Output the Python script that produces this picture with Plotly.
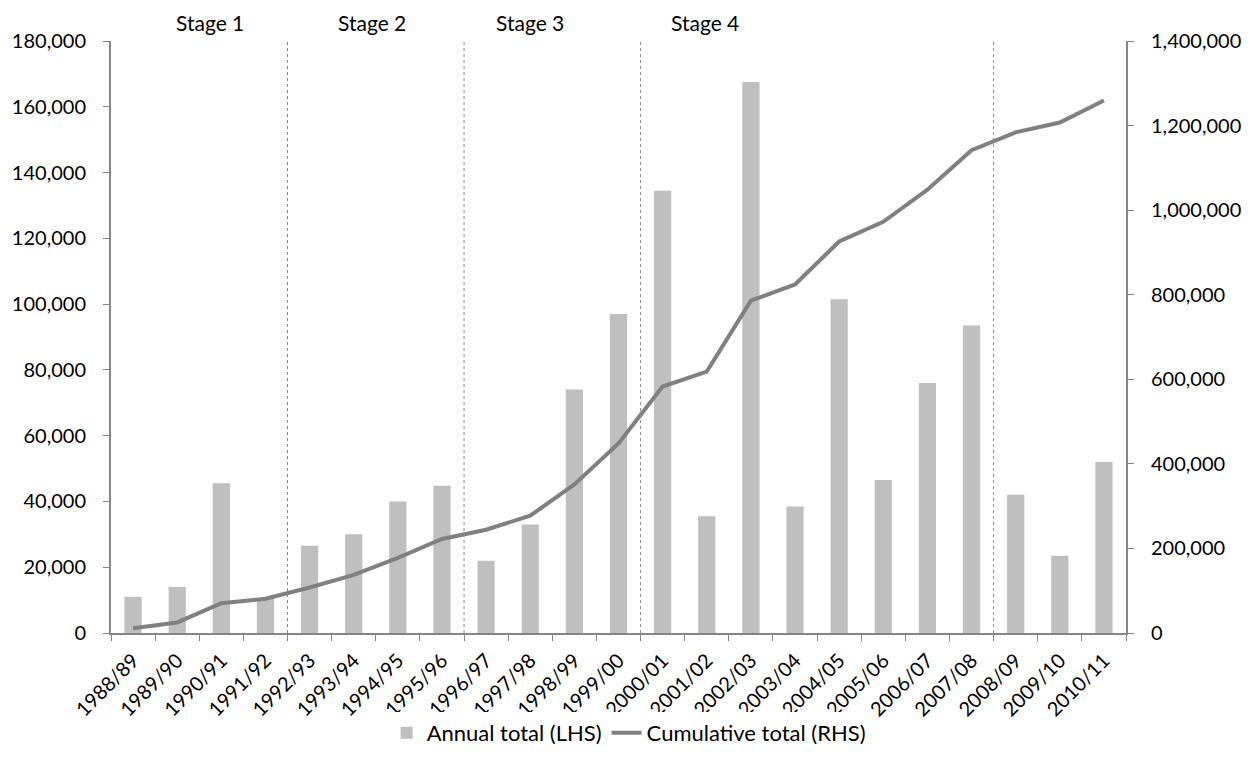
import plotly.graph_objects as go

years = ["1988/89", "1989/90", "1990/91", "1991/92", "1992/93", "1993/94", "1994/95",
         "1995/96", "1996/97", "1997/98", "1998/99", "1999/00", "2000/01", "2001/02",
         "2002/03", "2003/04", "2004/05", "2005/06", "2006/07", "2007/08", "2008/09",
         "2009/10", "2010/11"]
annual = [11000, 14000, 45500, 10500, 26500, 30000, 40000, 44800, 22000, 33000, 74000,
          97000, 134500, 35500, 167500, 38500, 101500, 46500, 76000, 93500, 42000,
          23500, 52000]
cumulative = [11000, 25000, 70500, 81000, 107500, 137500, 177500, 222300, 244300, 277300,
              351300, 448300, 582800, 618300, 785800, 824300, 925800, 972300, 1048300,
              1141800, 1183800, 1207300, 1259300]
stage_labels = ["Stage 1", "Stage 2", "Stage 3", "Stage 4"]
stage_label_pos = [1.74, 5.41, 8.99, 12.96]
stage_breaks = [3.5, 7.5, 11.5, 19.5]

FONT = "Lato"
AXIS_COLOR = "#868686"
TICK_FONT = dict(family=FONT, size=20, color="black")

fig = go.Figure()
fig.add_trace(go.Bar(x=years, y=annual, name="Annual total (LHS)",
                     marker=dict(color="#BFBFBF", line=dict(width=0)), width=0.39))
fig.add_trace(go.Scatter(x=years, y=cumulative, name="Cumulative total (RHS)", yaxis="y2",
                         mode="lines", line=dict(color="#808080", width=4)))

for b in stage_breaks:
    fig.add_shape(type="line", xref="x", yref="paper", x0=b, x1=b, y0=0, y1=1,
                  line=dict(color="#888888", width=1, dash="3px,3px"))

for lab, pos in zip(stage_labels, stage_label_pos):
    fig.add_annotation(text=lab, x=pos, xref="x", y=1.031, yref="paper",
                       showarrow=False, xanchor="center", yanchor="middle",
                       font=dict(family=FONT, size=21, color="black"))

fig.update_layout(
    width=1259, height=773,
    margin=dict(l=103, r=141, t=33, b=148),
    paper_bgcolor="white", plot_bgcolor="white",
    font=dict(family=FONT, size=20, color="black"),
    showlegend=True,
    legend=dict(orientation="h", x=0.51, xanchor="center", y=-0.169, yanchor="middle",
                font=dict(family=FONT, size=22, color="black"), traceorder="normal"),
    xaxis=dict(type="category", tickangle=-45, showline=True, linecolor=AXIS_COLOR,
               linewidth=2, ticks="outside", tickson="boundaries", ticklen=6,
               tickcolor=AXIS_COLOR, showgrid=False, zeroline=False, automargin=False,
               tickfont=TICK_FONT, ticklabelstandoff=6,
               range=[-0.5, len(years) - 0.5]),
    yaxis=dict(range=[0, 180000], dtick=20000, tickformat=",d", showline=True,
               linecolor=AXIS_COLOR, linewidth=2, ticks="outside", ticklen=6,
               tickcolor=AXIS_COLOR, showgrid=False, zeroline=False, automargin=False,
               tickfont=TICK_FONT, ticklabelstandoff=13),
    yaxis2=dict(range=[0, 1400000], dtick=200000, tickformat=",d", overlaying="y",
                side="right", showline=True, linecolor=AXIS_COLOR, linewidth=2,
                ticks="outside", ticklen=6, tickcolor=AXIS_COLOR, showgrid=False,
                zeroline=False, automargin=False, tickfont=TICK_FONT,
                ticklabelstandoff=13),
)

fig.write_html("out.html")
